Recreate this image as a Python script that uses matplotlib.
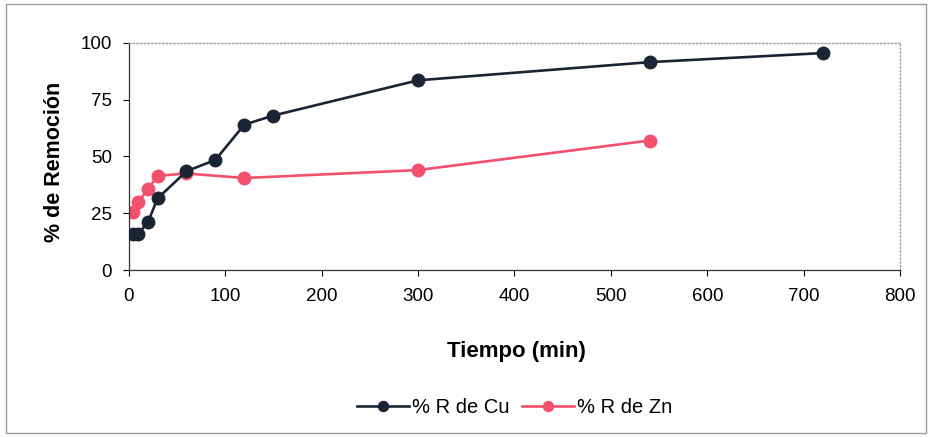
import matplotlib
matplotlib.use("Agg")
import matplotlib.pyplot as plt
from matplotlib.patches import Rectangle

# ── data ─────────────────────────────────────────────────────────────────────
tiempo_cu = [5, 10, 20, 30, 60, 90, 120, 150, 300, 540, 720]
rem_cu    = [16, 16, 21, 31.5, 43.5, 48.5, 64, 68, 83.5, 91.5, 95.5]

tiempo_zn = [5, 10, 20, 30, 60, 120, 300, 540]
rem_zn    = [25.5, 30, 35.5, 41.5, 42.5, 40.5, 44, 57]

x_ticks = [0, 100, 200, 300, 400, 500, 600, 700, 800]
y_ticks = [0, 25, 50, 75, 100]

plt.rcParams["font.family"] = ["Liberation Sans", "DejaVu Sans"]

fig = plt.figure(figsize=(9.32, 4.37), dpi=100)
fig.patch.set_facecolor("white")
fig.add_artist(Rectangle((0.006, 0.01), 0.988, 0.98, transform=fig.transFigure,
                         fill=False, edgecolor="#9a9a9a", linewidth=1.0))

ax = fig.add_axes([0.138, 0.382, 0.828, 0.520])

ax.plot(tiempo_cu, rem_cu, "-o", color="#1b2433", markersize=9,
        linewidth=1.9, label="% R de Cu", zorder=3)
ax.plot(tiempo_zn, rem_zn, "-o", color="#f2506c", markersize=9,
        linewidth=1.9, label="% R de Zn", zorder=2)

ax.set_xlim(0, 800)
ax.set_ylim(0, 100)
ax.set_xticks(x_ticks)
ax.set_yticks(y_ticks)
ax.tick_params(labelsize=13.5, length=4, width=0.8, colors="black")
ax.tick_params(axis="x", pad=9)
ax.tick_params(axis="y", pad=8)

for side in ("top", "right"):
    ax.spines[side].set_color("#a0a0a0")
    ax.spines[side].set_linestyle(":")
    ax.spines[side].set_linewidth(1.0)
for side in ("left", "bottom"):
    ax.spines[side].set_color("#333333")
    ax.spines[side].set_linewidth(0.9)

ax.set_xlabel("Tiempo (min)", fontsize=16, fontweight="bold")
ax.set_ylabel("% de Remoción", fontsize=15.5, fontweight="bold")
ax.xaxis.set_label_coords(0.503, -0.312)
ax.yaxis.set_label_coords(-0.083, 0.476)

fig.legend(loc="center", bbox_to_anchor=(0.552, 0.068), ncol=2, frameon=False,
           fontsize=14.5, handlelength=2.6, handletextpad=0.15, columnspacing=0.6,
           markerscale=0.8)

fig.savefig("out.png", dpi=100)
